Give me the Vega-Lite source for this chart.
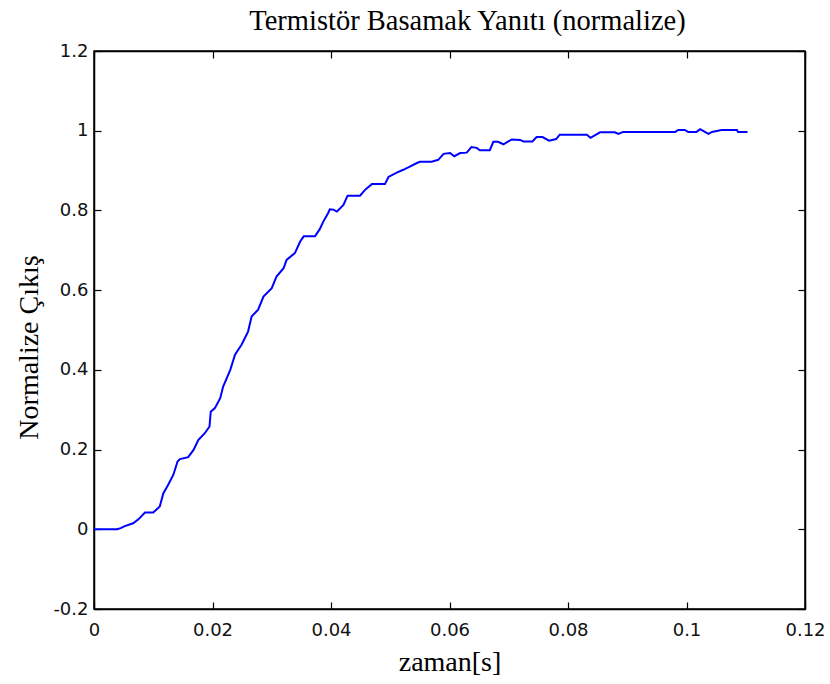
{
  "$schema": "https://vega.github.io/schema/vega-lite/v6.json",
  "width": 711,
  "height": 558,
  "autosize": {"type": "none"},
  "padding": {"left": 94, "top": 51, "right": 25, "bottom": 75},
  "background": "white",
  "title": {
    "text": "Termistör Basamak Yanıtı (normalize)",
    "font": "Liberation Serif",
    "fontSize": 28.5,
    "fontWeight": "normal",
    "color": "black",
    "anchor": "middle",
    "offset": 7,
    "dx": 18
  },
  "config": {
    "view": {"stroke": "black", "strokeWidth": 1.5},
    "axis": {
      "domainColor": "black",
      "domainWidth": 1.5,
      "tickColor": "black",
      "tickWidth": 1.2,
      "tickSize": -7,
      "grid": false,
      "labelFont": "DejaVu Sans",
      "labelFontSize": 18,
      "labelColor": "#111111",
      "titleFont": "Liberation Serif",
      "titleFontSize": 28,
      "titleFontWeight": "normal",
      "titleColor": "black"
    }
  },
  "data": {
    "values": [
      {"t": 0, "v": 0}, {"t": 0.0039, "v": 0}, {"t": 0.0045, "v": 0.003}, {"t": 0.0052, "v": 0.008},
      {"t": 0.0066, "v": 0.015}, {"t": 0.0075, "v": 0.025}, {"t": 0.0086, "v": 0.042}, {"t": 0.0100, "v": 0.042},
      {"t": 0.0111, "v": 0.057}, {"t": 0.0117, "v": 0.09}, {"t": 0.0125, "v": 0.111}, {"t": 0.0134, "v": 0.137},
      {"t": 0.0141, "v": 0.17}, {"t": 0.0145, "v": 0.176}, {"t": 0.0159, "v": 0.181}, {"t": 0.0168, "v": 0.199},
      {"t": 0.0176, "v": 0.224}, {"t": 0.0187, "v": 0.241}, {"t": 0.0195, "v": 0.258}, {"t": 0.0197, "v": 0.295},
      {"t": 0.0204, "v": 0.304}, {"t": 0.0213, "v": 0.329}, {"t": 0.0218, "v": 0.358}, {"t": 0.0230, "v": 0.400},
      {"t": 0.0238, "v": 0.438}, {"t": 0.0249, "v": 0.463}, {"t": 0.0260, "v": 0.496}, {"t": 0.0266, "v": 0.534},
      {"t": 0.0277, "v": 0.551}, {"t": 0.0286, "v": 0.584}, {"t": 0.0300, "v": 0.605}, {"t": 0.0308, "v": 0.634},
      {"t": 0.0320, "v": 0.655}, {"t": 0.0325, "v": 0.676}, {"t": 0.0339, "v": 0.693}, {"t": 0.0348, "v": 0.722},
      {"t": 0.0354, "v": 0.735}, {"t": 0.0373, "v": 0.735}, {"t": 0.0381, "v": 0.753}, {"t": 0.0387, "v": 0.772},
      {"t": 0.0395, "v": 0.793}, {"t": 0.0398, "v": 0.803}, {"t": 0.0404, "v": 0.802}, {"t": 0.0410, "v": 0.797},
      {"t": 0.0421, "v": 0.814}, {"t": 0.0428, "v": 0.837}, {"t": 0.0449, "v": 0.837}, {"t": 0.0457, "v": 0.851},
      {"t": 0.0469, "v": 0.866}, {"t": 0.0491, "v": 0.866}, {"t": 0.0497, "v": 0.884}, {"t": 0.0511, "v": 0.895},
      {"t": 0.0522, "v": 0.902}, {"t": 0.0533, "v": 0.910}, {"t": 0.0545, "v": 0.919}, {"t": 0.0550, "v": 0.922},
      {"t": 0.0570, "v": 0.922}, {"t": 0.0581, "v": 0.927}, {"t": 0.0590, "v": 0.942}, {"t": 0.0601, "v": 0.944},
      {"t": 0.0608, "v": 0.936}, {"t": 0.0618, "v": 0.944}, {"t": 0.0629, "v": 0.945}, {"t": 0.0637, "v": 0.959},
      {"t": 0.0646, "v": 0.957}, {"t": 0.0651, "v": 0.951}, {"t": 0.0668, "v": 0.951}, {"t": 0.0674, "v": 0.972},
      {"t": 0.0682, "v": 0.972}, {"t": 0.0691, "v": 0.966}, {"t": 0.0705, "v": 0.978}, {"t": 0.0719, "v": 0.977},
      {"t": 0.0725, "v": 0.973}, {"t": 0.0740, "v": 0.973}, {"t": 0.0747, "v": 0.984}, {"t": 0.0757, "v": 0.984},
      {"t": 0.0768, "v": 0.975}, {"t": 0.0780, "v": 0.979}, {"t": 0.0786, "v": 0.990}, {"t": 0.0832, "v": 0.990},
      {"t": 0.0838, "v": 0.982}, {"t": 0.0854, "v": 0.996}, {"t": 0.0879, "v": 0.996}, {"t": 0.0885, "v": 0.992},
      {"t": 0.0893, "v": 0.997}, {"t": 0.0981, "v": 0.997}, {"t": 0.0986, "v": 1.002}, {"t": 0.0997, "v": 1.002},
      {"t": 0.1003, "v": 0.997}, {"t": 0.1017, "v": 0.997}, {"t": 0.1023, "v": 1.004}, {"t": 0.1031, "v": 0.997},
      {"t": 0.1037, "v": 0.992}, {"t": 0.1043, "v": 0.997}, {"t": 0.1059, "v": 1.002}, {"t": 0.1085, "v": 1.002},
      {"t": 0.1087, "v": 0.997}, {"t": 0.1103, "v": 0.997}
    ]
  },
  "layer": [
    {
      "mark": {"type": "line", "color": "#0000ff", "strokeWidth": 2, "clip": true},
      "encoding": {
        "x": {
          "field": "t", "type": "quantitative",
          "scale": {"domain": [0, 0.12], "nice": false, "zero": false},
          "axis": {"orient": "bottom", "title": "zaman[s]", "values": [0, 0.02, 0.04, 0.06, 0.08, 0.1, 0.12], "labelExpr": "replace(format(datum.value, '.2~f'), '−', '-')", "labelPadding": 19, "titlePadding": 9, "labelFlush": false}
        },
        "y": {
          "field": "v", "type": "quantitative",
          "scale": {"domain": [-0.2, 1.2], "nice": false, "zero": false},
          "axis": {"orient": "left", "title": "Normalize Çıkış", "values": [-0.2, 0, 0.2, 0.4, 0.6, 0.8, 1, 1.2], "labelExpr": "replace(format(datum.value, '.1~f'), '−', '-')", "labelPadding": 13, "titleX": -57, "titleY": 296, "titleBaseline": "alphabetic", "titleAngle": 270, "titleAlign": "center", "labelFlush": false}
        }
      }
    },
    {
      "mark": {"type": "line", "opacity": 0},
      "encoding": {
        "x": {
          "field": "t", "type": "quantitative",
          "axis": {"orient": "top", "title": null, "labels": false, "values": [0, 0.02, 0.04, 0.06, 0.08, 0.1, 0.12]}
        },
        "y": {
          "field": "v", "type": "quantitative",
          "axis": {"orient": "right", "title": null, "labels": false, "values": [-0.2, 0, 0.2, 0.4, 0.6, 0.8, 1, 1.2]}
        }
      }
    }
  ],
  "resolve": {"axis": {"x": "independent", "y": "independent"}}
}
